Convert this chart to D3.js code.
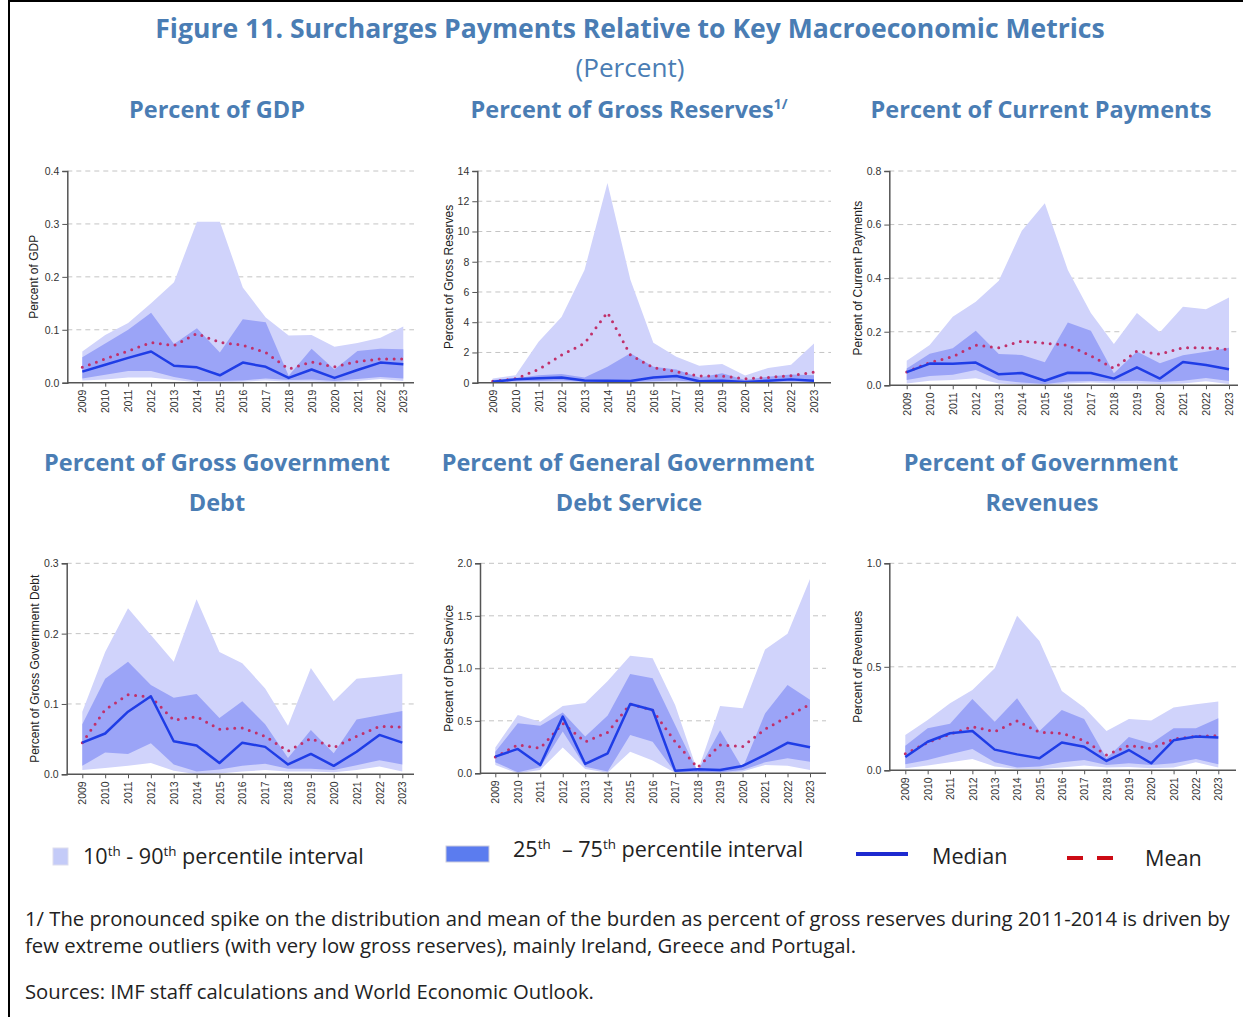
<!DOCTYPE html>
<html><head><meta charset="utf-8">
<script src="https://cdn.jsdelivr.net/npm/d3@7"></script>
<style>body{margin:0;background:#fff}</style>
</head><body>
<svg id="c" width="1243" height="1017"></svg>
<script>
// ---------------- DATA ----------------
const years = [2009,2010,2011,2012,2013,2014,2015,2016,2017,2018,2019,2020,2021,2022,2023];

// Percent of GDP
const gdpP10 = [0.004,0.006,0.010,0.010,0.005,0.001,0.001,0.002,0.004,0.002,0.0025,0.001,0.003,0.007,0.003];
const gdpP25 = [0.008,0.015,0.022,0.022,0.011,0.003,0.003,0.004,0.008,0.005,0.006,0.003,0.007,0.011,0.008];
const gdpMed = [0.021,0.034,0.047,0.059,0.032,0.029,0.014,0.038,0.030,0.009,0.025,0.009,0.024,0.038,0.035];
const gdpMean= [0.029,0.045,0.060,0.076,0.070,0.093,0.076,0.071,0.057,0.026,0.039,0.030,0.040,0.045,0.045];
const gdpP75 = [0.048,0.074,0.100,0.132,0.073,0.103,0.057,0.120,0.114,0.013,0.064,0.025,0.060,0.064,0.063];
const gdpP90 = [0.059,0.090,0.113,0.150,0.190,0.304,0.304,0.180,0.123,0.089,0.090,0.068,0.075,0.085,0.106];

// Percent of Gross Reserves
const resP10 = [0.01,0.03,0.04,0.05,0.02,0.01,0.01,0.03,0.05,0.01,0.02,0.01,0.02,0.03,0.02];
const resP25 = [0.04,0.10,0.12,0.15,0.06,0.04,0.03,0.10,0.15,0.03,0.05,0.02,0.05,0.08,0.05];
const resMed = [0.07,0.22,0.29,0.35,0.15,0.13,0.11,0.35,0.44,0.09,0.13,0.04,0.13,0.22,0.13];
const resMean= [0.09,0.26,0.88,1.83,2.60,4.65,1.83,0.99,0.73,0.44,0.44,0.26,0.35,0.46,0.70];
const resP75 = [0.18,0.30,0.50,0.57,0.35,1.06,1.94,1.06,0.88,0.35,0.62,0.18,0.40,0.55,0.50];
const resP90 = [0.28,0.50,2.70,4.35,7.45,13.2,6.80,2.65,1.72,1.12,1.23,0.48,0.97,1.19,2.60];

// Percent of Current Payments
const cpP10 = [0.007,0.017,0.020,0.026,0.007,0.002,0.002,0.007,0.010,0.007,0.007,0.005,0.007,0.015,0.005];
const cpP25 = [0.020,0.035,0.039,0.057,0.020,0.010,0.005,0.014,0.016,0.015,0.017,0.012,0.017,0.027,0.016];
const cpMed = [0.049,0.081,0.080,0.085,0.041,0.046,0.017,0.047,0.046,0.025,0.067,0.025,0.087,0.076,0.060];
const cpMean= [0.050,0.085,0.107,0.150,0.140,0.165,0.157,0.150,0.110,0.063,0.128,0.116,0.140,0.140,0.134];
const cpP75 = [0.063,0.118,0.138,0.204,0.117,0.113,0.086,0.234,0.204,0.045,0.126,0.082,0.112,0.125,0.140];
const cpP90 = [0.092,0.150,0.256,0.312,0.390,0.577,0.680,0.430,0.270,0.154,0.270,0.198,0.293,0.284,0.328];

// Percent of Gross Government Debt
const gdP10 = [0.006,0.009,0.012,0.016,0.005,0.000,0.001,0.004,0.006,0.004,0.004,0.003,0.006,0.011,0.004];
const gdP25 = [0.012,0.031,0.029,0.044,0.014,0.004,0.007,0.012,0.015,0.008,0.008,0.006,0.013,0.020,0.014];
const gdMed = [0.045,0.058,0.089,0.111,0.047,0.041,0.016,0.045,0.039,0.014,0.029,0.012,0.032,0.056,0.045];
const gdMean= [0.045,0.092,0.113,0.110,0.077,0.082,0.064,0.066,0.054,0.033,0.051,0.038,0.054,0.068,0.067];
const gdP75 = [0.071,0.136,0.160,0.127,0.109,0.114,0.080,0.104,0.071,0.023,0.063,0.030,0.078,0.084,0.090];
const gdP90 = [0.089,0.174,0.236,0.198,0.160,0.249,0.174,0.158,0.122,0.069,0.151,0.104,0.136,0.139,0.143];

// Percent of General Government Debt Service
const dsP10 = [0.079,0.000,0.032,0.245,0.041,0.006,0.206,0.121,0.006,0.006,0.003,0.016,0.079,0.073,0.032];
const dsP25 = [0.105,0.010,0.057,0.397,0.063,0.016,0.365,0.300,0.010,0.010,0.010,0.032,0.105,0.143,0.111];
const dsMed = [0.159,0.232,0.079,0.540,0.089,0.190,0.660,0.603,0.025,0.038,0.032,0.070,0.175,0.290,0.248];
const dsMean= [0.156,0.270,0.238,0.476,0.300,0.390,0.660,0.600,0.300,0.054,0.270,0.254,0.420,0.540,0.657];
const dsP75 = [0.206,0.476,0.454,0.580,0.350,0.550,0.946,0.905,0.460,0.016,0.410,0.048,0.570,0.840,0.700];
const dsP90 = [0.245,0.556,0.490,0.640,0.670,0.880,1.120,1.095,0.650,0.016,0.640,0.620,1.180,1.330,1.850];

// Percent of Government Revenues
const rvP10 = [0.010,0.023,0.039,0.055,0.018,0.006,0.006,0.013,0.023,0.013,0.016,0.010,0.014,0.039,0.013];
const rvP25 = [0.029,0.050,0.077,0.103,0.039,0.013,0.018,0.039,0.050,0.026,0.034,0.026,0.034,0.055,0.029];
const rvMed = [0.064,0.138,0.179,0.190,0.100,0.077,0.058,0.134,0.114,0.045,0.098,0.034,0.145,0.163,0.158];
const rvMean= [0.080,0.134,0.174,0.211,0.187,0.238,0.184,0.179,0.143,0.074,0.119,0.106,0.151,0.164,0.167];
const rvP75 = [0.119,0.203,0.225,0.345,0.235,0.348,0.190,0.291,0.248,0.058,0.161,0.130,0.203,0.203,0.251];
const rvP90 = [0.171,0.243,0.324,0.388,0.493,0.747,0.625,0.383,0.303,0.190,0.248,0.240,0.303,0.319,0.332];

const yAxisLabels = ["Percent of GDP","Percent of Gross Reserves","Percent of Current Payments",
  "Percent of Gross Government Debt","Percent of Debt Service","Percent of Revenues"];
const yMaxes = [0.4, 14, 0.8, 0.3, 2.0, 1.0];
const yTickValues = [[0,0.1,0.2,0.3,0.4],[0,2,4,6,8,10,12,14],[0,0.2,0.4,0.6,0.8],[0,0.1,0.2,0.3],[0,0.5,1.0,1.5,2.0],[0,0.5,1.0]];
const yTickFormats = [".1f","d",".1f",".1f",".1f",".1f"];

const seriesSets = [
  [gdpP10,gdpP25,gdpMed,gdpMean,gdpP75,gdpP90],
  [resP10,resP25,resMed,resMean,resP75,resP90],
  [cpP10,cpP25,cpMed,cpMean,cpP75,cpP90],
  [gdP10,gdP25,gdMed,gdMean,gdP75,gdP90],
  [dsP10,dsP25,dsMed,dsMean,dsP75,dsP90],
  [rvP10,rvP25,rvMed,rvMean,rvP75,rvP90]
];

// ---------------- LAYOUT ----------------
const layout = [
  {ax:67.3, x0:82.3, x1:403.3, xr:414, yt:171, yb:382.7, lx:34},
  {ax:477.3, x0:492.7, x1:814, xr:831, yt:171, yb:382.7, lx:449},
  {ax:889.3, x0:906.7, x1:1229, xr:1238, yt:171, yb:385.3, lx:858},
  {ax:66.7, x0:82.3, x1:402.3, xr:414, yt:563.3, yb:774.3, lx:35},
  {ax:480, x0:495.3, x1:810, xr:826, yt:563.3, yb:773.3, lx:449},
  {ax:889.3, x0:905.3, x1:1218.3, xr:1236, yt:563.3, yb:770.3, lx:858}
];

const svg = d3.select("#c");
const TITLE = "#4a7db4";
const LIGHT = "#d0d3fb", DARK = "#9ba4f7", MED = "#1f3de6", MEAN = "#c0306a";
const SANS = "'Open Sans', 'Noto Sans', sans-serif";
const AX = "'Liberation Sans', Arial, sans-serif";

// frame
svg.append("line").attr("x1",9).attr("x2",9).attr("y1",0).attr("y2",1017).attr("stroke","#000").attr("stroke-width",2);
svg.append("line").attr("x1",8).attr("x2",1243).attr("y1",1).attr("y2",1).attr("stroke","#000").attr("stroke-width",2);

function fitGroup(sel, refNode, target){
  const w = refNode.getComputedTextLength();
  const fs = parseFloat(d3.select(refNode).attr("font-size"));
  const nf = fs*target/w;
  sel.attr("font-size", nf);
  return nf;
}

// Main title
const t1 = svg.append("text").attr("x",630).attr("y",38).attr("text-anchor","middle")
  .attr("font-family",SANS).attr("font-weight",700).attr("font-size",26).attr("fill",TITLE)
  .text("Figure 11. Surcharges Payments Relative to Key Macroeconomic Metrics");
fitGroup(t1, t1.node(), 950);
const t2 = svg.append("text").attr("x",630).attr("y",77).attr("text-anchor","middle")
  .attr("font-family",SANS).attr("font-weight",400).attr("font-size",24).attr("fill",TITLE)
  .text("(Percent)");
fitGroup(t2, t2.node(), 109);

// Panel titles
const subTitles = [
  {x:217,y:118,t:"Percent of GDP"},
  {x:629,y:118,t:"Percent of Gross Reserves",sup:"1/"},
  {x:1041,y:118,t:"Percent of Current Payments"},
  {x:217,y:471,t:"Percent of Gross Government"},
  {x:217,y:511,t:"Debt"},
  {x:628,y:471,t:"Percent of General Government"},
  {x:629,y:511,t:"Debt Service"},
  {x:1041,y:471,t:"Percent of Government"},
  {x:1042,y:511,t:"Revenues"}
];
const subSel = svg.selectAll("text.sub").data(subTitles).enter().append("text").attr("class","sub")
  .attr("x",d=>d.x).attr("y",d=>d.y).attr("text-anchor","middle")
  .attr("font-family",SANS).attr("font-weight",700).attr("font-size",24).attr("fill",TITLE);
subSel.each(function(d){
  const s = d3.select(this);
  s.append("tspan").text(d.t);
  if(d.sup) s.append("tspan").attr("dy",-9).attr("font-size","0.6em").text(d.sup);
});
fitGroup(subSel, subSel.filter((d,i)=>i===2).node(), 341);

// Panels
layout.forEach((L,i)=>{
  const [p10,p25,med,mean,p75,p90] = seriesSets[i];
  const x = d3.scaleLinear().domain([years[0], years[years.length-1]]).range([L.x0,L.x1]);
  const y = d3.scaleLinear().domain([0,yMaxes[i]]).range([L.yb,L.yt]);
  const g = svg.append("g");

  // grid
  g.selectAll("line.grid").data(yTickValues[i].filter(v=>v>0)).enter().append("line")
    .attr("x1",L.ax).attr("x2",L.xr).attr("y1",d=>y(d)).attr("y2",d=>y(d))
    .attr("stroke","#c4c4c4").attr("stroke-width",1).attr("stroke-dasharray","5,4");

  const idx = d3.range(years.length);
  const areaOuter = d3.area().x(j=>x(years[j])).y0(j=>y(p10[j])).y1(j=>y(p90[j]));
  const areaInner = d3.area().x(j=>x(years[j])).y0(j=>y(p25[j])).y1(j=>y(p75[j]));
  g.append("path").attr("d",areaOuter(idx)).attr("fill",LIGHT);
  g.append("path").attr("d",areaInner(idx)).attr("fill",DARK);

  const ln = arr => d3.line().x(j=>x(years[j])).y(j=>y(arr[j]))(idx);
  g.append("path").attr("d",ln(mean)).attr("fill","none").attr("stroke",MEAN)
    .attr("stroke-width",3).attr("stroke-linecap","round").attr("stroke-dasharray","0,7.5");
  g.append("path").attr("d",ln(med)).attr("fill","none").attr("stroke",MED).attr("stroke-width",2.5)
    .attr("stroke-linejoin","round");

  // y axis
  const yAxis = d3.axisLeft(y).tickValues(yTickValues[i]).tickFormat(d3.format(yTickFormats[i])).tickSize(5).tickPadding(3);
  const ya = g.append("g").attr("transform",`translate(${L.ax},0)`).call(yAxis);
  ya.select(".domain").attr("stroke","#555").attr("stroke-width",1.5);
  ya.selectAll(".tick line").attr("stroke","#555");
  ya.selectAll(".tick text").attr("font-family",AX).attr("font-size",10.5).attr("fill","#333");

  // x axis
  const xAxis = d3.axisBottom(x).tickValues(years).tickFormat(d3.format("d")).tickSize(4).tickSizeOuter(0);
  const xa = g.append("g").attr("transform",`translate(0,${L.yb})`).call(xAxis);
  xa.select(".domain").remove();
  xa.append("line").attr("x1",L.ax).attr("x2",L.xr).attr("stroke","#555").attr("stroke-width",1.5);
  xa.selectAll(".tick line").attr("stroke","#555");
  xa.selectAll(".tick text").attr("font-family",AX).attr("font-size",10.5).attr("fill","#333")
    .attr("transform","rotate(-90)").attr("text-anchor","end").attr("dy","0.35em").attr("x",-7).attr("y",0);

  // y label
  g.append("text").attr("transform",`translate(${L.lx},${(L.yt+L.yb)/2}) rotate(-90)`)
    .attr("text-anchor","middle").attr("dy","0.35em").attr("font-family",AX).attr("font-size",12)
    .attr("fill","#222").text(yAxisLabels[i]);
});

// Legend
const lg = svg.append("g");
lg.append("rect").attr("x",53).attr("y",848).attr("width",15).attr("height",17).attr("fill","#c4cbf8").attr("stroke","#dde").attr("stroke-width",1);
lg.append("rect").attr("x",446).attr("y",846).attr("width",43).attr("height",16).attr("fill","#5b7cef").attr("stroke","#ccd").attr("stroke-width",1);
lg.append("line").attr("x1",856).attr("x2",908).attr("y1",854).attr("y2",854).attr("stroke","#1d2ad0").attr("stroke-width",4);
lg.append("line").attr("x1",1067).attr("x2",1083).attr("y1",858).attr("y2",858).attr("stroke","#cc0a14").attr("stroke-width",4);
lg.append("line").attr("x1",1097).attr("x2",1113).attr("y1",858).attr("y2",858).attr("stroke","#cc0a14").attr("stroke-width",4);

const legTexts = [
  {x:83,y:864,parts:[["10",0],["th",1],[" - 90",0],["th",1],[" percentile interval",0]]},
  {x:513,y:857,parts:[["25",0],["th",1],["\u00a0\u00a0\u2013 75",0],["th",1],[" percentile interval",0]]},
  {x:932,y:864,parts:[["Median",0]]},
  {x:1145,y:866,parts:[["Mean",0]]}
];
const legSel = lg.selectAll("text").data(legTexts).enter().append("text")
  .attr("x",d=>d.x).attr("y",d=>d.y).attr("font-family",SANS).attr("font-size",20).attr("fill","#222");
legSel.each(function(d){
  const s = d3.select(this);
  let sup = false;
  d.parts.forEach(([t,isSup])=>{
    const ts = s.append("tspan").text(t);
    if(isSup && !sup){ ts.attr("dy",-8).attr("font-size","0.62em"); sup=true; }
    else if(isSup && sup){ ts.attr("font-size","0.62em"); }
    else if(!isSup && sup){ ts.attr("dy",8); sup=false; }
  });
});
fitGroup(legSel, legSel.filter((d,i)=>i===0).node(), 281);

// Footnotes
const notes = [
  {y:926,t:"1/ The pronounced spike on the distribution and mean of the burden as percent of gross reserves during 2011-2014 is driven by"},
  {y:953,t:"few extreme outliers (with very low gross reserves), mainly Ireland, Greece and Portugal."},
  {y:999,t:"Sources: IMF staff calculations and World Economic Outlook."}
];
const noteSel = svg.selectAll("text.note").data(notes).enter().append("text").attr("class","note")
  .attr("x",25).attr("y",d=>d.y).attr("font-family",SANS).attr("font-size",20).attr("fill","#222").text(d=>d.t);
fitGroup(noteSel, noteSel.filter((d,i)=>i===0).node(), 1205);
</script>
</body></html>
